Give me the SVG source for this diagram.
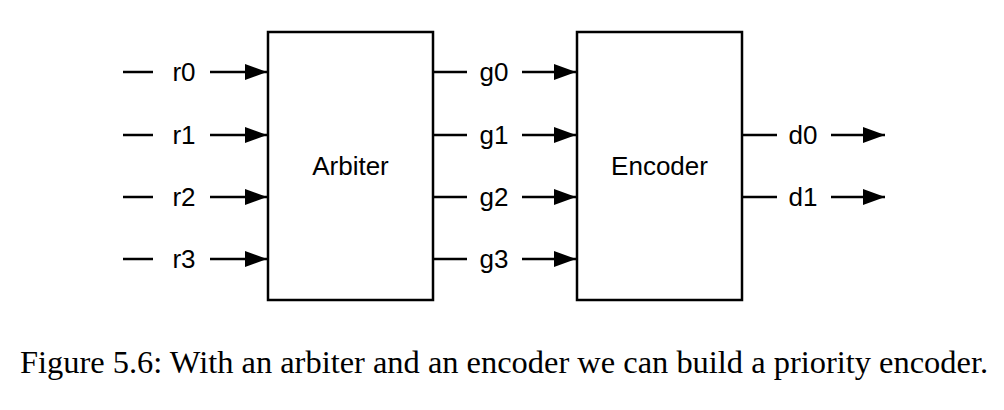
<svg xmlns="http://www.w3.org/2000/svg" width="1004" height="410" viewBox="0 0 1004 410">
<defs>
<marker id="ah" markerWidth="22" markerHeight="16" refX="22" refY="8" orient="auto" markerUnits="userSpaceOnUse">
<path d="M0,0 L22,8 L0,16 Z" fill="#000"/>
</marker>
<style>
.box{fill:#fff;stroke:#000;stroke-width:2.5}
.w{stroke:#000;stroke-width:2.5;fill:none}
.a{stroke:#000;stroke-width:2.5;fill:none;marker-end:url(#ah)}
.lbl{font-family:"Liberation Sans",Arial,sans-serif;font-size:26px;fill:#000;text-anchor:middle}
.cap{font-family:"Liberation Serif","Times New Roman",serif;font-size:32px;fill:#000}
</style>
</defs>
<rect width="1004" height="410" fill="#fff"/>
<g id="arbiter">
<rect class="box" x="268" y="32" width="165" height="268"/>
<text class="lbl" x="350.5" y="175">Arbiter</text>
</g>
<g id="encoder">
<rect class="box" x="577" y="32" width="165" height="268"/>
<text class="lbl" x="659.5" y="175">Encoder</text>
</g>
<g id="connectors">
<line class="w" x1="123" y1="72" x2="153" y2="72"/><line class="a" x1="210" y1="72" x2="267" y2="72"/>
<line class="w" x1="123" y1="135" x2="153" y2="135"/><line class="a" x1="210" y1="135" x2="267" y2="135"/>
<line class="w" x1="123" y1="197" x2="153" y2="197"/><line class="a" x1="210" y1="197" x2="267" y2="197"/>
<line class="w" x1="123" y1="259" x2="153" y2="259"/><line class="a" x1="210" y1="259" x2="267" y2="259"/>
<line class="w" x1="433" y1="72" x2="467" y2="72"/><line class="a" x1="522" y1="72" x2="576" y2="72"/>
<line class="w" x1="433" y1="135" x2="467" y2="135"/><line class="a" x1="522" y1="135" x2="576" y2="135"/>
<line class="w" x1="433" y1="197" x2="467" y2="197"/><line class="a" x1="522" y1="197" x2="576" y2="197"/>
<line class="w" x1="433" y1="259" x2="467" y2="259"/><line class="a" x1="522" y1="259" x2="576" y2="259"/>
<line class="w" x1="742" y1="135" x2="777" y2="135"/><line class="a" x1="831" y1="135" x2="885" y2="135"/>
<line class="w" x1="742" y1="197" x2="777" y2="197"/><line class="a" x1="831" y1="197" x2="885" y2="197"/>
</g>
<g id="labels">
<text class="lbl" x="184" y="81">r0</text>
<text class="lbl" x="184" y="144">r1</text>
<text class="lbl" x="184" y="206">r2</text>
<text class="lbl" x="184" y="268">r3</text>
<text class="lbl" x="494" y="81">g0</text>
<text class="lbl" x="494" y="144">g1</text>
<text class="lbl" x="494" y="206">g2</text>
<text class="lbl" x="494" y="268">g3</text>
<text class="lbl" x="803" y="144">d0</text>
<text class="lbl" x="803" y="206">d1</text>
</g>
<text class="cap" x="20" y="373" textLength="968" lengthAdjust="spacingAndGlyphs">Figure 5.6: With an arbiter and an encoder we can build a priority encoder.</text>
</svg>
